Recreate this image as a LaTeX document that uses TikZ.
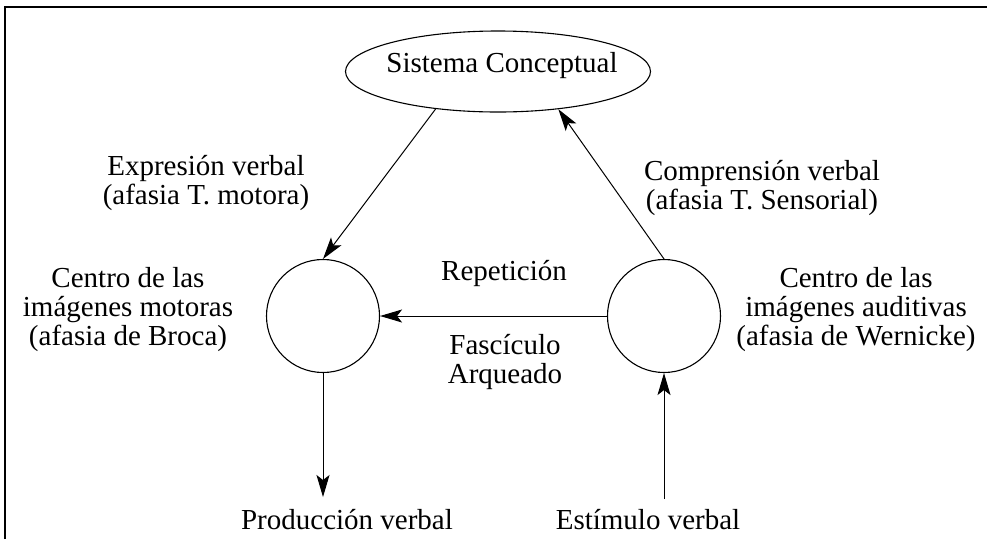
\documentclass[tikz,border=0pt]{standalone}
\usepackage{fontspec}
\setmainfont{Liberation Serif}
\usetikzlibrary{shapes.geometric,arrows.meta}
\begin{document}
\begin{tikzpicture}[x=1pt,y=-1pt,
  lbl/.style={inner sep=0pt,align=center,font=\fontsize{29}{29}\selectfont},
  ell/.style={draw,ellipse,line width=1.1pt,minimum width=305pt,minimum height=81pt,inner sep=0pt},
  circ/.style={draw,circle,line width=1.1pt,minimum size=113pt,inner sep=0pt},
  arr/.style={line width=1pt,-{Stealth[length=22pt,width=13pt,inset=5pt]}},
  frame/.style={line width=1.6pt}]
\useasboundingbox (0,0) rectangle (987,539);
\coordinate (ftl) at (5,7);
\coordinate (ftr) at (987,7);
\coordinate (fbl) at (5,539);
\draw[frame] (fbl) -- (ftl) -- (ftr);

\node[ell] (sc) at (498,71.5) {};
\node[lbl] (sctext) at (502,66) {Sistema Conceptual};
\node[circ] (broca) at (323,316) {};
\node[circ] (wern) at (664,316) {};

\node[lbl] (expr) at (206,183) {Expresión verbal\\(afasia T. motora)};
\node[lbl] (compr) at (762,188) {Comprensión verbal\\(afasia T. Sensorial)};
\node[lbl] (centroL) at (128,310) {Centro de las\\imágenes motoras\\(afasia de Broca)};
\node[lbl] (centroR) at (856,310) {Centro de las\\imágenes auditivas\\(afasia de Wernicke)};
\node[lbl] (rep) at (504,273) {Repetición};
\node[lbl] (fasc) at (505,362) {Fascículo\\Arqueado};
\node[lbl] (prod) at (347,520) {Producción verbal};
\node[lbl] (estim) at (648,520) {Estímulo verbal};

\coordinate (prodtip) at (323,497);
\coordinate (estbase) at (664,499);

\draw[arr] (sc.211) -- (broca.north);
\draw[arr] (wern.north) -- (sc.328);
\draw[arr] (wern.west) -- (broca.east);
\draw[arr] (broca.south) -- (prodtip);
\draw[arr] (estbase) -- (wern.south);
\end{tikzpicture}
\end{document}
